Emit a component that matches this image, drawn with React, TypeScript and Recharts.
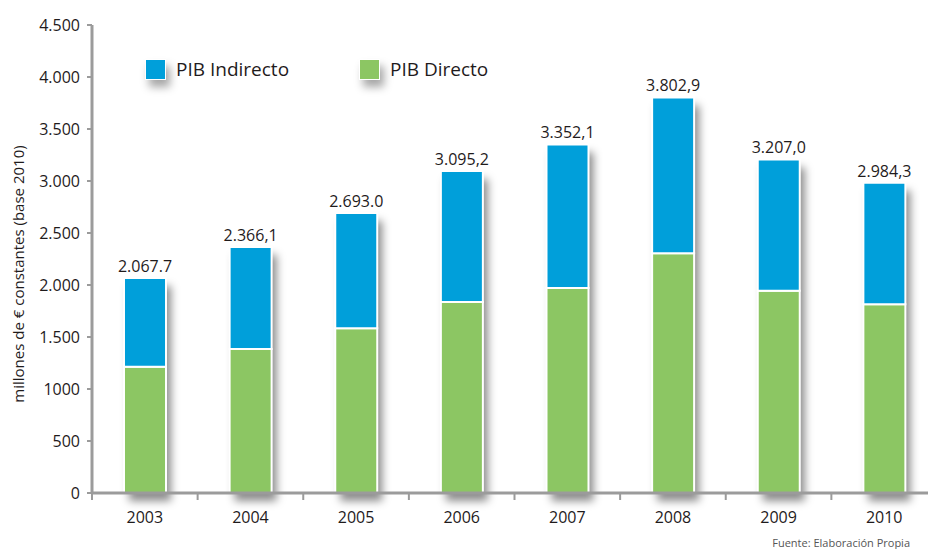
import React from "react";
import { BarChart, Bar, XAxis, YAxis, LabelList } from "recharts";

const years = ["2003", "2004", "2005", "2006", "2007", "2008", "2009", "2010"];
const pibDirecto = [1215, 1385, 1585, 1837, 1971, 2305, 1945, 1815];
const pibIndirecto = [852.7, 981.1, 1108.0, 1258.2, 1381.1, 1497.9, 1262.0, 1169.3];
const totalLabels = [
  "2.067.7",
  "2.366,1",
  "2.693.0",
  "3.095,2",
  "3.352,1",
  "3.802,9",
  "3.207,0",
  "2.984,3",
];
const yTicks = [0, 500, 1000, 1500, 2000, 2500, 3000, 3500, 4000, 4500];
const yTickLabels = ["0", "500", "1000", "1.500", "2.000", "2.500", "3.000", "3.500", "4.000", "4.500"];

const BLUE = "#009fda";
const GREEN = "#8cc663";
const AXIS = "#9b9b9b";
const TEXT = "#1f1b1c";
const FONT = "'Open Sans', sans-serif";

const data = years.map((year, i) => ({
  year,
  directo: pibDirecto[i],
  indirecto: pibIndirecto[i],
  total: pibDirecto[i] + pibIndirecto[i],
  label: totalLabels[i],
}));

// blurred rect drawn behind each stack
const ShadowShape = (props: any) => {
  const { x, y, width, height } = props;
  if (!height) return null;
  return (
    <rect
      x={x + 5}
      y={y + 8}
      width={width}
      height={height}
      fill="#000"
      fillOpacity={0.45}
      filter="url(#barShadow)"
    />
  );
};

const YearTick = (props: any) => {
  const { x, y, payload } = props;
  const half = payload && payload.offset ? payload.offset : 52.8;
  return (
    <g>
      <line x1={x - half} x2={x - half} y1={y} y2={y + 7} stroke={AXIS} strokeWidth={2} />
      <text
        x={x}
        y={y + 30}
        textAnchor="middle"
        fill={TEXT}
        fontSize={16}
        fontFamily={FONT}
      >
        {payload.value}
      </text>
    </g>
  );
};

const LegendItem = ({ color, text, left }: { color: string; text: string; left: number }) => (
  <div style={{ position: "absolute", left, top: 57, display: "flex", alignItems: "center" }}>
    <div
      style={{
        width: 19,
        height: 19,
        background: color,
        border: "1px solid #fff",
        boxShadow: "4px 7px 8px rgba(0,0,0,0.35)",
      }}
    />
    <span style={{ marginLeft: 10, fontSize: 19, color: TEXT, fontFamily: FONT, lineHeight: "24px" }}>
      {text}
    </span>
  </div>
);

export default function App() {
  return (
    <div
      style={{
        position: "absolute",
        left: 0,
        top: 0,
        width: 928,
        height: 549,
        overflow: "hidden",
        background: "#fff",
        fontFamily: FONT,
      }}
    >
      <svg width={0} height={0} style={{ position: "absolute" }}>
        <defs>
          <filter id="barShadow" x="-50%" y="-20%" width="200%" height="140%">
            <feGaussianBlur stdDeviation={4} />
          </filter>
        </defs>
      </svg>
      <BarChart
        width={937}
        height={549}
        data={data}
        margin={{ top: 25, right: 0, bottom: 0, left: 0 }}
        barCategoryGap={0}
      >
        <XAxis xAxisId="shadow" dataKey="year" hide />
        <XAxis
          dataKey="year"
          height={56}
          axisLine={{ stroke: AXIS, strokeWidth: 3 }}
          tickLine={false}
          tickSize={0}
          tickMargin={0}
          interval={0}
          tick={<YearTick />}
        />
        <YAxis
          width={92}
          domain={[0, 4500]}
          ticks={yTicks}
          interval={0}
          tickFormatter={(v: number) => yTickLabels[yTicks.indexOf(v)]}
          axisLine={{ stroke: AXIS, strokeWidth: 3 }}
          tickLine={{ stroke: AXIS, strokeWidth: 2 }}
          tickSize={5}
          tickMargin={7}
          tick={{ fill: TEXT, fontSize: 16, fontFamily: FONT }}
        />
        <Bar
          xAxisId="shadow"
          dataKey="total"
          barSize={42}
          shape={<ShadowShape />}
          isAnimationActive={false}
        />
        <Bar
          dataKey="directo"
          stackId="pib"
          fill={GREEN}
          stroke="#fff"
          strokeWidth={2}
          barSize={42}
          isAnimationActive={false}
        />
        <Bar
          dataKey="indirecto"
          stackId="pib"
          fill={BLUE}
          stroke="#fff"
          strokeWidth={2}
          barSize={42}
          isAnimationActive={false}
        >
          <LabelList
            dataKey="label"
            position="top"
            offset={6}
            fill={TEXT}
            fontSize={16}
            fontFamily={FONT}
          />
        </Bar>
      </BarChart>

      <LegendItem color={BLUE} text="PIB Indirecto" left={145} />
      <LegendItem color={GREEN} text="PIB Directo" left={359} />

      <div
        style={{
          position: "absolute",
          left: 18,
          top: 274,
          transform: "translate(-50%, -50%) rotate(-90deg)",
          whiteSpace: "nowrap",
          fontSize: 15,
          color: TEXT,
        }}
      >
        millones de € constantes (base 2010)
      </div>

      <div
        style={{
          position: "absolute",
          right: 18,
          top: 535,
          whiteSpace: "nowrap",
          fontSize: 11,
          color: "#555",
        }}
      >
        Fuente: Elaboración Propia
      </div>
    </div>
  );
}
